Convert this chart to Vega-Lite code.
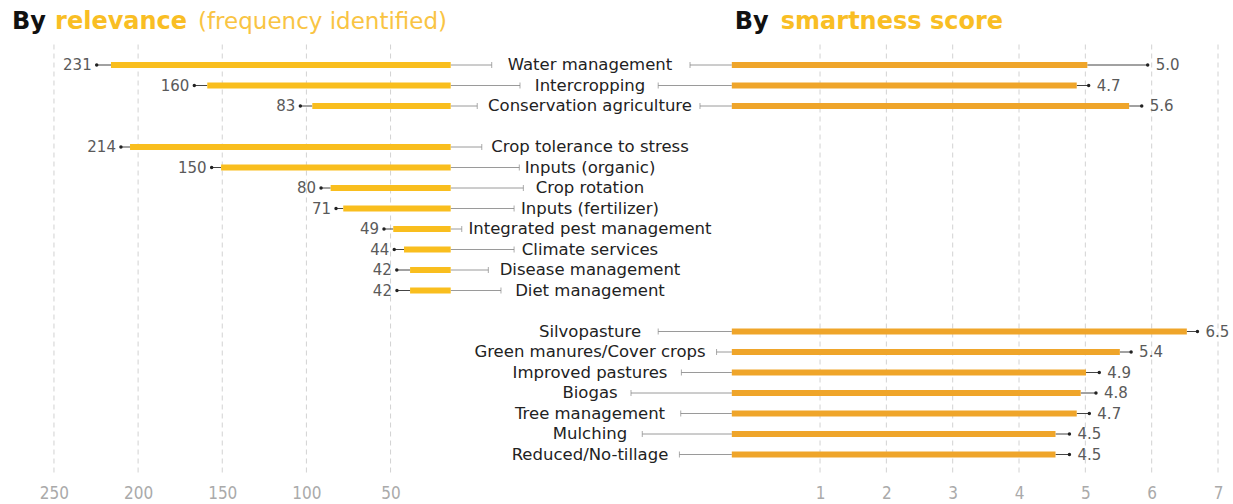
{
  "$schema": "https://vega.github.io/schema/vega-lite/v6.json",
  "width": 1233,
  "height": 451,
  "autosize": "none",
  "padding": {"left": 0, "right": 0, "top": 24, "bottom": 29},
  "background": "white",
  "config": {
    "view": {"stroke": null},
    "axisX": {
      "ticks": false, "tickSize": 0, "domain": false, "grid": false,
      "labelFont": "DejaVu Sans Condensed", "labelFontSize": 17, "labelColor": "#aaa",
      "labelPadding": 10, "labelBaseline": "top", "orient": "bottom"
    }
  },
  "datasets": {
    "relevance": [
      {"name": "Water management", "count": 231, "bar": 216.1, "dot": 224.6, "hi": -10.1},
      {"name": "Intercropping", "count": 160, "bar": 158.9, "dot": 166.6, "hi": -26.9},
      {"name": "Conservation agriculture", "count": 83, "bar": 96.5, "dot": 103.6, "hi": -1.5},
      {"name": "Crop tolerance to stress", "count": 214, "bar": 204.8, "dot": 210.2, "hi": -4.2},
      {"name": "Inputs (organic)", "count": 150, "bar": 150.7, "dot": 156.3, "hi": -26.5},
      {"name": "Crop rotation", "count": 80, "bar": 85.6, "dot": 91.3, "hi": -28.9},
      {"name": "Inputs (fertilizer)", "count": 71, "bar": 78.1, "dot": 82.4, "hi": -23.4},
      {"name": "Integrated pest management", "count": 49, "bar": 48.4, "dot": 53.9, "hi": 7.7},
      {"name": "Climate services", "count": 44, "bar": 42.0, "dot": 47.8, "hi": -23.4},
      {"name": "Disease management", "count": 42, "bar": 38.4, "dot": 46.3, "hi": -8.1},
      {"name": "Diet management", "count": 42, "bar": 38.4, "dot": 46.2, "hi": -15.6}
    ],
    "smartness": [
      {"name": "Water management", "score": 5.0, "bar": 5.03, "dot": 5.94, "lo": -0.96},
      {"name": "Intercropping", "score": 4.7, "bar": 4.87, "dot": 5.05, "lo": -1.44},
      {"name": "Conservation agriculture", "score": 5.6, "bar": 5.66, "dot": 5.85, "lo": -0.81},
      {"name": "Silvopasture", "score": 6.5, "bar": 6.53, "dot": 6.69, "lo": -1.44},
      {"name": "Green manures/Cover crops", "score": 5.4, "bar": 5.52, "dot": 5.69, "lo": -0.56},
      {"name": "Improved pastures", "score": 4.9, "bar": 5.01, "dot": 5.21, "lo": -1.09},
      {"name": "Biogas", "score": 4.8, "bar": 4.93, "dot": 5.16, "lo": -1.85},
      {"name": "Tree management", "score": 4.7, "bar": 4.87, "dot": 5.06, "lo": -1.10},
      {"name": "Mulching", "score": 4.5, "bar": 4.55, "dot": 4.76, "lo": -1.68},
      {"name": "Reduced/No-tillage", "score": 4.5, "bar": 4.55, "dot": 4.76, "lo": -1.12}
    ],
    "relGrid": [{"v": 50}, {"v": 100}, {"v": 150}, {"v": 200}, {"v": 250}],
    "scoreGrid": [{"v": 1}, {"v": 2}, {"v": 3}, {"v": 4}, {"v": 5}, {"v": 6}, {"v": 7}],
    "one": [{"k": 1}]
  },
  "encoding": {
    "y": {
      "field": "name", "type": "nominal", "title": null, "axis": null,
      "scale": {"type": "point", "padding": 0, "domain": ["_title", "_gtop", "Water management", "Intercropping", "Conservation agriculture", "_gap1", "Crop tolerance to stress", "Inputs (organic)", "Crop rotation", "Inputs (fertilizer)", "Integrated pest management", "Climate services", "Disease management", "Diet management", "_gap2", "Silvopasture", "Green manures/Cover crops", "Improved pastures", "Biogas", "Tree management", "Mulching", "Reduced/No-tillage", "_gbot"]}
    }
  },
  "layer": [
    {
      "layer": [
        {
          "data": {"name": "relGrid"},
          "mark": {"type": "rule", "color": "#d2d2d2", "strokeWidth": 1, "strokeDash": [5, 4]},
          "encoding": {
            "x": {"field": "v", "type": "quantitative", "title": null,
                  "scale": {"domain": [-450.56, 282.06], "reverse": true, "nice": false, "zero": false},
                  "axis": {"values": [50, 100, 150, 200, 250], "format": "d", "orient": "bottom"}},
            "y": {"datum": "_gtop", "type": "nominal", "axis": null},
            "y2": {"datum": "_gbot"}
          }
        },
        {
          "data": {"name": "relevance"},
          "mark": {"type": "rule", "color": "#9a9a9a", "strokeWidth": 1},
          "encoding": {"x": {"field": "hi", "type": "quantitative", "title": null}, "x2": {"datum": 14.26}}
        },
        {
          "data": {"name": "relevance"},
          "mark": {"type": "tick", "orient": "vertical", "size": 6, "thickness": 1, "color": "#888"},
          "encoding": {"x": {"field": "hi", "type": "quantitative", "title": null}}
        },
        {
          "data": {"name": "relevance"},
          "mark": {"type": "rule", "color": "#444", "strokeWidth": 1},
          "encoding": {"x": {"field": "dot", "type": "quantitative", "title": null}, "x2": {"field": "bar"}}
        },
        {
          "data": {"name": "relevance"},
          "mark": {"type": "rule", "color": "#F9BE1E", "strokeWidth": 6, "strokeCap": "butt"},
          "encoding": {"x": {"field": "bar", "type": "quantitative", "title": null}, "x2": {"datum": 14.26}}
        },
        {
          "data": {"name": "relevance"},
          "mark": {"type": "circle", "size": 12, "color": "#222", "opacity": 1},
          "encoding": {"x": {"field": "dot", "type": "quantitative", "title": null}}
        },
        {
          "data": {"name": "relevance"},
          "mark": {"type": "text", "align": "right", "baseline": "middle", "dx": -5, "font": "DejaVu Sans", "fontSize": 15, "color": "#5a5a5a"},
          "encoding": {"x": {"field": "dot", "type": "quantitative", "title": null}, "text": {"field": "count", "type": "quantitative"}}
        },
        {
          "data": {"name": "relevance"},
          "mark": {"type": "text", "align": "center", "baseline": "middle", "font": "DejaVu Sans", "fontSize": 16.5, "color": "#222"},
          "encoding": {"x": {"datum": -68.5, "type": "quantitative"}, "text": {"field": "name", "type": "nominal"}}
        },
        {
          "data": {"name": "one"},
          "mark": {"type": "text", "text": "By", "align": "left", "baseline": "alphabetic", "dy": 5, "font": "DejaVu Sans", "fontWeight": "bold", "fontSize": 24, "color": "#111"},
          "encoding": {"x": {"datum": 274.9, "type": "quantitative"}, "y": {"datum": "_title", "type": "nominal", "axis": null}}
        },
        {
          "data": {"name": "one"},
          "mark": {"type": "text", "text": "relevance", "align": "left", "baseline": "alphabetic", "dx": 43, "dy": 5, "font": "DejaVu Sans", "fontWeight": "bold", "fontSize": 24, "color": "#F9BE24"},
          "encoding": {"x": {"datum": 274.9, "type": "quantitative"}, "y": {"datum": "_title", "type": "nominal", "axis": null}}
        },
        {
          "data": {"name": "one"},
          "mark": {"type": "text", "text": "(frequency identified)", "align": "left", "baseline": "alphabetic", "dx": 186, "dy": 5, "font": "DejaVu Sans", "fontSize": 23, "color": "#F9C443"},
          "encoding": {"x": {"datum": 274.9, "type": "quantitative"}, "y": {"datum": "_title", "type": "nominal", "axis": null}}
        }
      ]
    },
    {
      "layer": [
        {
          "data": {"name": "scoreGrid"},
          "mark": {"type": "rule", "color": "#d2d2d2", "strokeWidth": 1, "strokeDash": [5, 4]},
          "encoding": {
            "x": {"field": "v", "type": "quantitative", "title": null,
                  "scale": {"domain": [-11.363, 7.226], "nice": false, "zero": false},
                  "axis": {"values": [1, 2, 3, 4, 5, 6, 7], "format": "d", "orient": "bottom"}},
            "y": {"datum": "_gtop", "type": "nominal", "axis": null},
            "y2": {"datum": "_gbot"}
          }
        },
        {
          "data": {"name": "smartness"},
          "mark": {"type": "rule", "color": "#9a9a9a", "strokeWidth": 1},
          "encoding": {"x": {"field": "lo", "type": "quantitative", "title": null}, "x2": {"datum": -0.33}}
        },
        {
          "data": {"name": "smartness"},
          "mark": {"type": "tick", "orient": "vertical", "size": 6, "thickness": 1, "color": "#888"},
          "encoding": {"x": {"field": "lo", "type": "quantitative", "title": null}}
        },
        {
          "data": {"name": "smartness"},
          "mark": {"type": "rule", "color": "#444", "strokeWidth": 1},
          "encoding": {"x": {"field": "bar", "type": "quantitative", "title": null}, "x2": {"field": "dot"}}
        },
        {
          "data": {"name": "smartness"},
          "mark": {"type": "rule", "color": "#EFA52A", "strokeWidth": 6, "strokeCap": "butt"},
          "encoding": {"x": {"field": "bar", "type": "quantitative", "title": null}, "x2": {"datum": -0.33}}
        },
        {
          "data": {"name": "smartness"},
          "mark": {"type": "circle", "size": 12, "color": "#222", "opacity": 1},
          "encoding": {"x": {"field": "dot", "type": "quantitative", "title": null}}
        },
        {
          "data": {"name": "smartness"},
          "mark": {"type": "text", "align": "left", "baseline": "middle", "dx": 8, "font": "DejaVu Sans", "fontSize": 15, "color": "#5a5a5a"},
          "encoding": {"x": {"field": "dot", "type": "quantitative", "title": null}, "text": {"field": "score", "type": "quantitative", "format": ".1f"}}
        },
        {
          "data": {"name": "smartness"},
          "transform": [{"filter": {"not": {"field": "name", "oneOf": ["Water management", "Intercropping", "Conservation agriculture"]}}}],
          "mark": {"type": "text", "align": "center", "baseline": "middle", "font": "DejaVu Sans", "fontSize": 16.5, "color": "#222"},
          "encoding": {"x": {"datum": -2.468, "type": "quantitative"}, "text": {"field": "name", "type": "nominal"}}
        },
        {
          "data": {"name": "one"},
          "mark": {"type": "text", "text": "By", "align": "left", "baseline": "alphabetic", "dx": 3, "dy": 5, "font": "DejaVu Sans", "fontWeight": "bold", "fontSize": 24, "color": "#111"},
          "encoding": {"x": {"datum": -0.33, "type": "quantitative"}, "y": {"datum": "_title", "type": "nominal", "axis": null}}
        },
        {
          "data": {"name": "one"},
          "mark": {"type": "text", "text": "smartness score", "align": "left", "baseline": "alphabetic", "dx": 49, "dy": 5, "font": "DejaVu Sans", "fontWeight": "bold", "fontSize": 24, "color": "#F9BE24"},
          "encoding": {"x": {"datum": -0.33, "type": "quantitative"}, "y": {"datum": "_title", "type": "nominal", "axis": null}}
        }
      ]
    }
  ],
  "resolve": {"scale": {"x": "independent"}, "axis": {"x": "independent"}}
}
